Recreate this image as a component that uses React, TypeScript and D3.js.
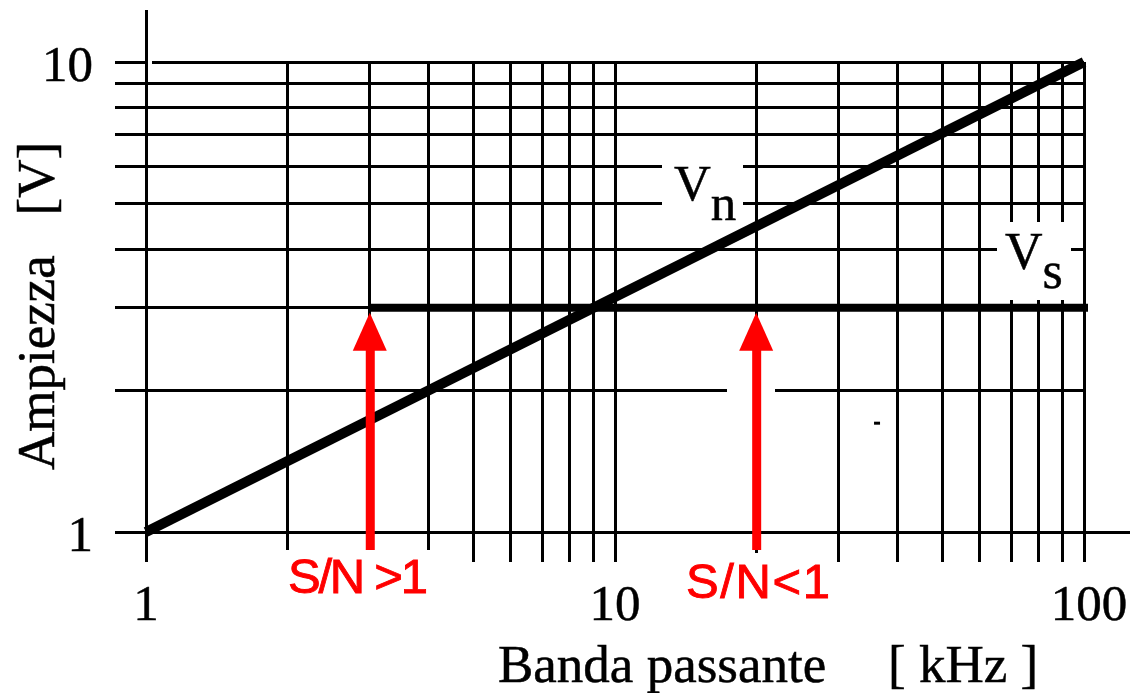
import React from "react";
import * as d3 from "d3";

const W = 1130;
const H = 693;

// Data
const xGridValues = [1, 2, 3, 4, 5, 6, 7, 8, 9, 10, 20, 30, 40, 50, 60, 70, 80, 90, 100];
const yGridValues = [1, 2, 3, 4, 5, 6, 7, 8, 9, 10];
const xTickLabels = [1, 10, 100];
const yTickLabels = [1, 10];
const vnFreq = [1, 100];
const vnAmp = [1, 10];
const vsFreq = [3, 100];
const vsAmp = [3, 3];
const arrowFreq = [3, 20];
const arrowLabels = ["S/N >1", "S/N<1"];
const strayMark = { f: 36.2, a: 1.7 };

const SERIF = "'Liberation Serif', 'DejaVu Serif', serif";
const SANS = "'Liberation Sans', Arial, sans-serif";

export default function App() {
  const x = d3.scaleLog().domain([1, 100]).range([146, 1084]);
  const y = d3.scaleLog().domain([1, 10]).range([532, 62]);

  const gridBottom = 562;
  const line = d3
    .line<[number, number]>()
    .x((d) => x(d[0]))
    .y((d) => y(d[1]));

  const vnPts: [number, number][] = vnFreq.map((f, i) => [f, vnAmp[i]]);
  const vsPts: [number, number][] = vsFreq.map((f, i) => [f, vsAmp[i]]);
  const vsY = y(vsAmp[0]);

  return (
    <svg
      width={W}
      height={H}
      style={{ position: "absolute", left: 0, top: 0, background: "#fff" }}
    >
      <rect x={0} y={0} width={W} height={H} fill="#fff" />
      {/* grid lines */}
      <g stroke="#000" strokeWidth={3} shapeRendering="crispEdges">
        {xGridValues.map((v) => (
          <line
            key={"vx" + v}
            x1={x(v)}
            x2={x(v)}
            y1={v === 1 ? 10 : y(10)}
            y2={gridBottom}
          />
        ))}
        {yGridValues.map((v) => (
          <line
            key={"hy" + v}
            x1={115}
            x2={v === 1 ? W : x(100)}
            y1={y(v)}
            y2={y(v)}
          />
        ))}
      </g>
      {/* white label backgrounds / gaps */}
      <g fill="#fff" shapeRendering="crispEdges">
        <rect x={148} y={59} width={3.5} height={6} />
        <rect x={662} y={158} width={81} height={62} />
        <rect x={997} y={222} width={74} height={78} />
        <rect x={x(arrowFreq[1]) - 29} y={y(2) - 6} width={48} height={12} />
        <rect x={280} y={550} width={152} height={60} />
        <rect x={678} y={553} width={150} height={60} />
      </g>
      {/* stray mark */}
      <rect
        x={x(strayMark.f) - 3}
        y={y(strayMark.a) - 2}
        width={6}
        height={3}
        fill="#000"
      />
      {/* Vs line */}
      <path d={line(vsPts) || ""} stroke="#000" strokeWidth={8} fill="none" />
      <line x1={x(100)} x2={x(100) + 4} y1={vsY} y2={vsY} stroke="#000" strokeWidth={8} />
      {/* Vn line */}
      <path d={line(vnPts) || ""} stroke="#000" strokeWidth={10} fill="none" />
      {/* Arrows */}
      {arrowFreq.map((f, i) => {
        const ax = x(f);
        const tip = vsY + 5;
        const base = vsY + 43;
        return (
          <g key={"ar" + i} fill="#ff0000">
            <rect x={ax - 4} y={base - 2} width={9} height={550 - base + 2} />
            <polygon points={`${ax},${tip} ${ax - 17},${base} ${ax + 17},${base}`} />
          </g>
        );
      })}
      {/* Arrow labels */}
      {arrowLabels.map((t, i) => (
        <text
          key={"al" + i}
          x={i === 0 ? 288 : 686}
          y={i === 0 ? 593 : 598}
          fill="#ff0000"
          stroke="#ff0000"
          strokeWidth={0.9}
          fontFamily={SANS}
          fontSize={49}
          textLength={i === 0 ? 140 : 144}
          lengthAdjust="spacing"
          style={{ whiteSpace: "pre" }}
        >
          {t}
        </text>
      ))}
      {/* Series labels */}
      <g fill="#000" stroke="#000" strokeWidth={0.5}>
        <text x={674} y={200} fontFamily={SERIF} fontSize={51}>
          V<tspan dy={20}>n</tspan>
        </text>
        <text x={1005} y={269} fontFamily={SERIF} fontSize={52}>
          V<tspan dy={19}>s</tspan>
        </text>
        {/* Tick labels */}
        {xTickLabels.map((v) => (
          <text
            key={"xt" + v}
            x={x(v) + (v === 100 ? 5 : 0)}
            y={620}
            textAnchor="middle"
            fontFamily={SERIF}
            fontSize={51}
          >
            {v}
          </text>
        ))}
        {yTickLabels.map((v) => (
          <text
            key={"yt" + v}
            x={93}
            y={y(v) + 19}
            textAnchor="end"
            fontFamily={SERIF}
            fontSize={51}
          >
            {v}
          </text>
        ))}
        {/* Axis titles */}
        <text x={498} y={682} fontFamily={SERIF} fontSize={53}>
          Banda passante
        </text>
        <text x={888} y={682} fontFamily={SERIF} fontSize={53} style={{ whiteSpace: "pre" }}>
          [ kHz ]
        </text>
        <text
          transform="translate(54,470) rotate(-90)"
          fontFamily={SERIF}
          fontSize={53}
          style={{ whiteSpace: "pre" }}
        >
          {"Ampiezza   [V]"}
        </text>
      </g>
    </svg>
  );
}
